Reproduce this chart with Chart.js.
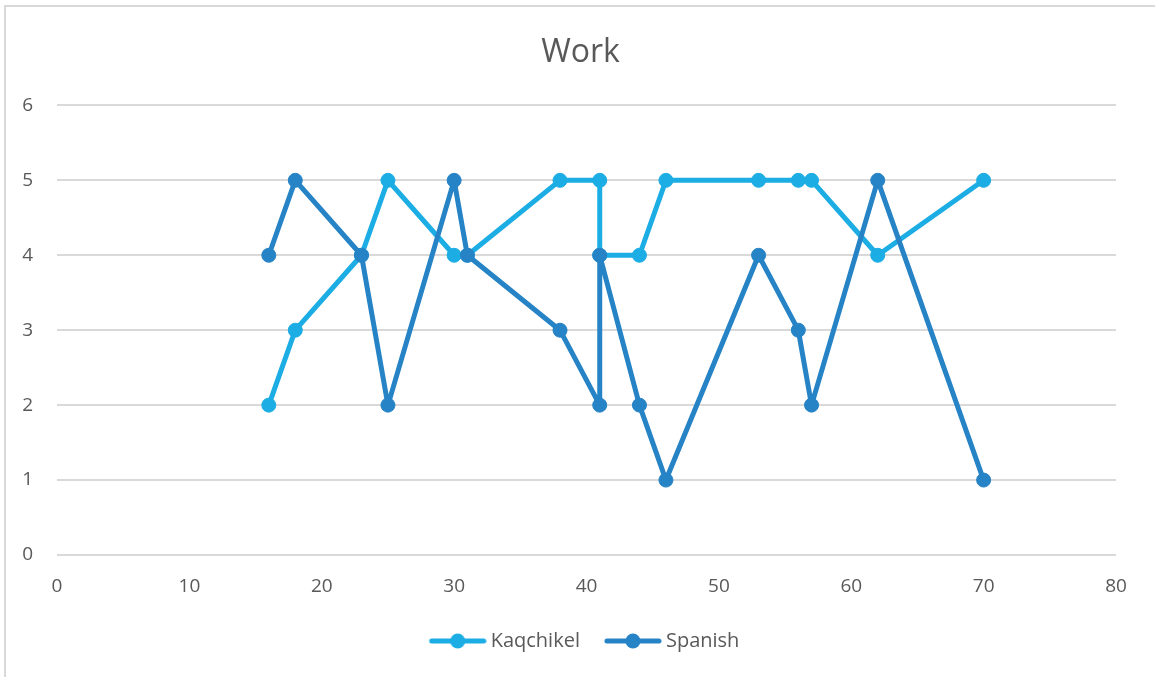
<!DOCTYPE html>
<html>
<head>
<meta charset="utf-8">
<script src="https://cdn.jsdelivr.net/npm/chart.js@4.4.1/dist/chart.umd.min.js"></script>
<style>
  html, body { margin: 0; padding: 0; background: #ffffff; }
  #wrap { position: relative; width: 1155px; height: 677px; overflow: hidden; }
  #frame { position: absolute; left: 4px; top: 5px; right: -10px; bottom: -10px;
           border-top: 2px solid #d9d9d9; border-left: 2px solid #d9d9d9; pointer-events: none; }
  canvas { position: absolute; left: 0; top: 0; }
</style>
</head>
<body>
<div id="wrap">
  <canvas id="c" width="1155" height="677"></canvas>
  <div id="frame"></div>
</div>
<script>
// ---- data ----
const chartTitle = "Work";
const seriesNames = ["Kaqchikel", "Spanish"];
const ages = [16, 18, 23, 25, 30, 31, 38, 41, 41, 44, 46, 53, 56, 57, 62, 70];
const kaqchikelValues = [2, 3, 4, 5, 4, 4, 5, 5, 4, 4, 5, 5, 5, 5, 4, 5];
const spanishValues = [4, 5, 4, 2, 5, 4, 3, 2, 4, 2, 1, 4, 3, 2, 5, 1];
const xTicks = [0, 10, 20, 30, 40, 50, 60, 70, 80];
const yTicks = [0, 1, 2, 3, 4, 5, 6];

const colors = ["#1CADE4", "#2683C6"];
const textColor = "#595959";
const gridColor = "#d9d9d9";
const FONT = "'Open Sans', 'Noto Sans', sans-serif";

function toPoints(xs, ys) { return xs.map((x, i) => ({ x: x, y: ys[i] })); }

function legendMarker(color) {
  const cv = document.createElement('canvas');
  cv.width = 71; cv.height = 16;
  const g = cv.getContext('2d');
  g.strokeStyle = color; g.lineWidth = 5; g.lineCap = 'round';
  g.beginPath(); g.moveTo(16, 8); g.lineTo(68, 8); g.stroke();
  g.fillStyle = color;
  g.beginPath(); g.arc(42, 8, 7.5, 0, Math.PI * 2); g.fill();
  return cv;
}
const markers = colors.map(legendMarker);

const datasets = [
  { label: seriesNames[0], data: toPoints(ages, kaqchikelValues), order: 1 },
  { label: seriesNames[1], data: toPoints(ages, spanishValues), order: 0 }
].map((d, i) => Object.assign(d, {
  borderColor: colors[i], backgroundColor: colors[i],
  pointBackgroundColor: colors[i], pointBorderColor: colors[i],
  borderWidth: 5, pointRadius: 7, pointBorderWidth: 1, pointHoverRadius: 7,
  showLine: true, tension: 0, fill: false, borderCapStyle: 'round', borderJoinStyle: 'round'
}));

new Chart(document.getElementById('c'), {
  type: 'scatter',
  data: { datasets: datasets },
  options: {
    responsive: false,
    animation: false,
    devicePixelRatio: 1,
    layout: { padding: { left: 6, right: 0, top: 0, bottom: 16 } },
    plugins: {
      tooltip: { enabled: false },
      title: {
        display: true, text: chartTitle, color: textColor,
        font: { family: FONT, size: 32, weight: 'normal' },
        padding: { top: 34, bottom: 33 }
      },
      legend: {
        display: true, position: 'bottom',
        labels: {
          color: textColor, font: { family: FONT, size: 20 },
          usePointStyle: true, pointStyleWidth: 59, padding: 17,
          generateLabels: (chart) => chart.data.datasets.map((ds, i) => ({
            text: ds.label, pointStyle: markers[i], fillStyle: colors[i],
            strokeStyle: colors[i], lineWidth: 0, fontColor: textColor,
            hidden: false, datasetIndex: i
          }))
        }
      }
    },
    scales: {
      x: {
        type: 'linear', min: 0, max: 80,
        afterBuildTicks: (s) => { s.ticks = xTicks.map(v => ({ value: v })); },
        ticks: { color: textColor, font: { family: FONT, size: 19 }, padding: 20 },
        grid: { display: false, drawTicks: false },
        border: { display: false },
        afterFit: (s) => { s.height = 59; }
      },
      y: {
        type: 'linear', min: 0, max: 6,
        afterBuildTicks: (s) => { s.ticks = yTicks.map(v => ({ value: v })); },
        ticks: { color: textColor, font: { family: FONT, size: 19 }, padding: 24 },
        grid: { color: gridColor, lineWidth: 2, drawTicks: false },
        border: { display: false },
        afterFit: (s) => { s.width = 51; }
      },
      yRight: {
        type: 'linear', position: 'right', min: 0, max: 6,
        ticks: { display: false },
        grid: { display: false, drawTicks: false },
        border: { display: false },
        afterFit: (s) => { s.width = 39; }
      }
    }
  }
});
</script>
</body>
</html>
